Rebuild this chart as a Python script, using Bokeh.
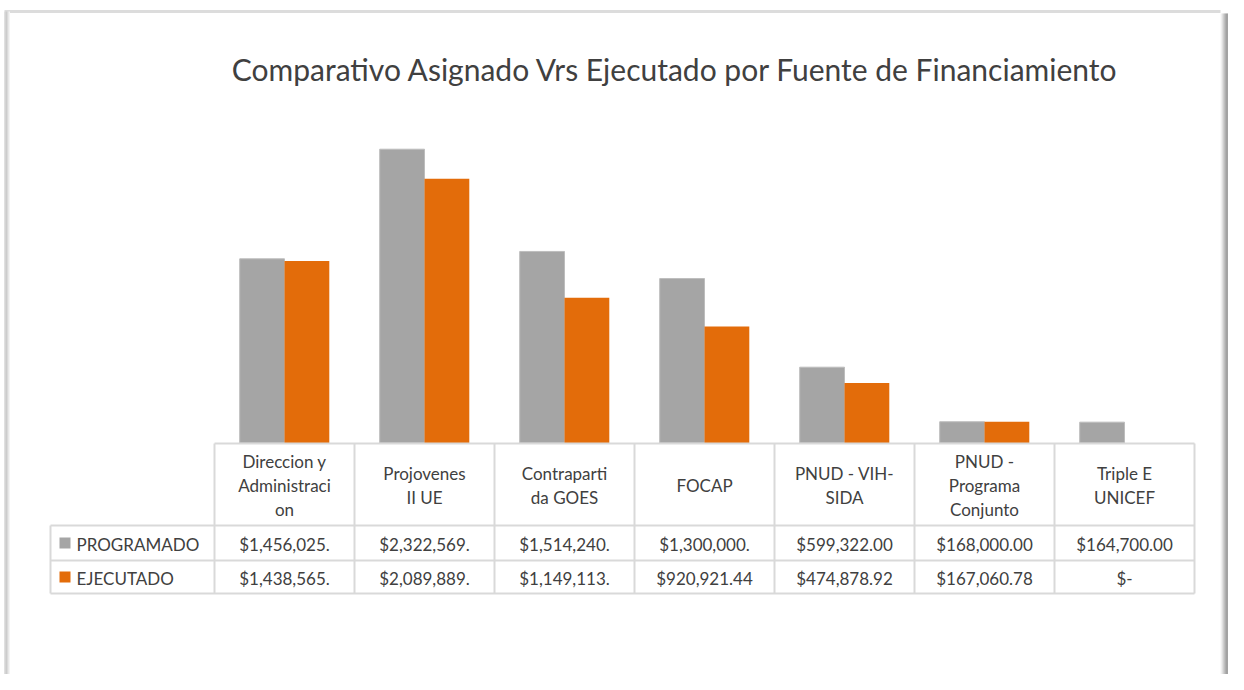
import numpy as np
from bokeh.plotting import figure
from bokeh.models import Range1d
from bokeh.core.properties import value
from bokeh.embed import file_html
from bokeh.resources import INLINE

# ---------------- data ----------------
categories = ["Direccion y Administracion", "Projovenes II UE", "Contrapartida GOES",
              "FOCAP", "PNUD - VIH-SIDA", "PNUD - Programa Conjunto", "Triple E UNICEF"]
category_lines = [["Direccion y", "Administraci", "on"], ["Projovenes", "II UE"],
                  ["Contraparti", "da GOES"], ["FOCAP"], ["PNUD - VIH-", "SIDA"],
                  ["PNUD -", "Programa", "Conjunto"], ["Triple E", "UNICEF"]]
series_names = ["PROGRAMADO", "EJECUTADO"]
programado = [1456025.00, 2322569.00, 1514240.00, 1300000.00, 599322.00, 168000.00, 164700.00]
ejecutado = [1438565.00, 2089889.00, 1149113.00, 920921.44, 474878.92, 167060.78, 0.0]
title = "Comparativo Asignado Vrs Ejecutado por Fuente de Financiamiento"

GRAY = "#a5a5a5"
ORANGE = "#e36c0a"
TXT = "#404040"
LINE = "#d9d9d9"
FONT = value("Lato")


def money(v):
    if v == 0:
        return "$-"
    s = "${:,.2f}".format(v)
    return s[:11]  # cell too narrow: Excel clips the text


# ---------------- layout ----------------
W, H = 1228, 674
OFF = 0
COL0, COLW = 214.0, 140.0         # x of first category column, column width
BASE = 442.5                      # y of bar baseline
SCALE = 126.5e-6                  # px per dollar
LEFT = 50.0
ROW_Y = [443.0, 525.0, 560.0, 593.0]

x0 = (OFF - COL0) / COLW
x1 = (OFF + W - COL0) / COLW
y1 = (BASE - OFF) / SCALE
y0 = (BASE - OFF - H) / SCALE

p = figure(width=W, height=H, output_backend="svg", toolbar_location=None,
           x_range=Range1d(x0, x1), y_range=Range1d(y0, y1),
           x_axis_location=None, y_axis_location=None, min_border=0)
p.grid.visible = False
p.outline_line_color = None
p.background_fill_color = "white"
p.border_fill_color = "white"
p.extra_x_ranges = {"px": Range1d(OFF, OFF + W)}
p.extra_y_ranges = {"px": Range1d(OFF + H, OFF)}

n = len(categories)
idx = np.arange(n)
bw = 0.32

# bars
p.vbar(x=idx + 0.5 - bw / 2, top=programado, bottom=0, width=bw,
       fill_color=GRAY, line_color="#bdbdbd", line_width=1)
p.vbar(x=idx + 0.5 + bw / 2, top=ejecutado, bottom=0, width=bw,
       fill_color=ORANGE, line_color=None)

# frame decoration (chart area border)
p.segment(x0=[4], y0=[11], x1=[1220], y1=[11], line_color="#dcdcdc", line_width=3,
          x_range_name="px", y_range_name="px")
for k, c in enumerate(["#e0e0e0", "#d4d4d4", "#cccccc", "#dadada", "#e8e8e8", "#f4f4f4"]):
    p.segment(x0=[4 + k], y0=[11], x1=[4 + k], y1=[H], line_color=c, line_width=1,
              x_range_name="px", y_range_name="px")
for k, c in enumerate(["#f4f4f4", "#e4e4e4", "#cecece", "#b8b8b8", "#a2a2a2",
                       "#8e8e8e", "#7e7e7e", "#888888"]):
    p.segment(x0=[1220.5 + k], y0=[13], x1=[1220.5 + k], y1=[H], line_color=c, line_width=1,
              x_range_name="px", y_range_name="px")

# table grid
right = COL0 + COLW * n
hx0 = [COL0, LEFT, LEFT, LEFT]
p.segment(x0=hx0, y0=ROW_Y, x1=[right] * 4, y1=ROW_Y, line_color=LINE, line_width=2,
          x_range_name="px", y_range_name="px")
vx = [COL0 + COLW * k for k in range(n + 1)]
p.segment(x0=vx, y0=[ROW_Y[0]] * (n + 1), x1=vx, y1=[ROW_Y[3]] * (n + 1),
          line_color=LINE, line_width=2, x_range_name="px", y_range_name="px")
p.segment(x0=[LEFT], y0=[ROW_Y[1]], x1=[LEFT], y1=[ROW_Y[3]],
          line_color=LINE, line_width=2, x_range_name="px", y_range_name="px")

# category labels in header row
hc = (ROW_Y[0] + ROW_Y[1]) / 2 + 1
lh = 24.0
cx, cy, ct = [], [], []
for i, lines in enumerate(category_lines):
    m = len(lines)
    for j, t in enumerate(lines):
        cx.append(i + 0.5)
        cy.append(hc + (j - (m - 1) / 2) * lh)
        ct.append(t)
p.text(x=cx, y=cy, text=ct, y_range_name="px", text_align="center",
       text_baseline="middle", text_font=FONT, text_font_size="17px", text_color=TXT)

# value rows
for r, vals in enumerate([programado, ejecutado]):
    yc = (ROW_Y[r + 1] + ROW_Y[r + 2]) / 2 + 1
    p.text(x=idx + 0.5, y=[yc] * n, text=[money(v) for v in vals], y_range_name="px",
           text_align="center", text_baseline="middle", text_font=FONT,
           text_font_size="17px", text_color=TXT)

# legend keys + series names
key_y = [(ROW_Y[1] + ROW_Y[2]) / 2, (ROW_Y[2] + ROW_Y[3]) / 2]
p.rect(x=[64.5, 64.5], y=key_y, width=11, height=11, fill_color=[GRAY, ORANGE],
       line_color=None, x_range_name="px", y_range_name="px")
p.text(x=[76, 76], y=[k + 1 for k in key_y], text=series_names, x_range_name="px",
       y_range_name="px", text_align="left", text_baseline="middle", text_font=FONT,
       text_font_size="17px", text_color=TXT)

# title
p.text(x=[675], y=[68], text=[title], x_range_name="px", y_range_name="px",
       text_align="center", text_baseline="middle", text_font=FONT,
       text_font_size="30px", text_color=TXT)

open("out.html", "w").write(file_html(p, INLINE))
